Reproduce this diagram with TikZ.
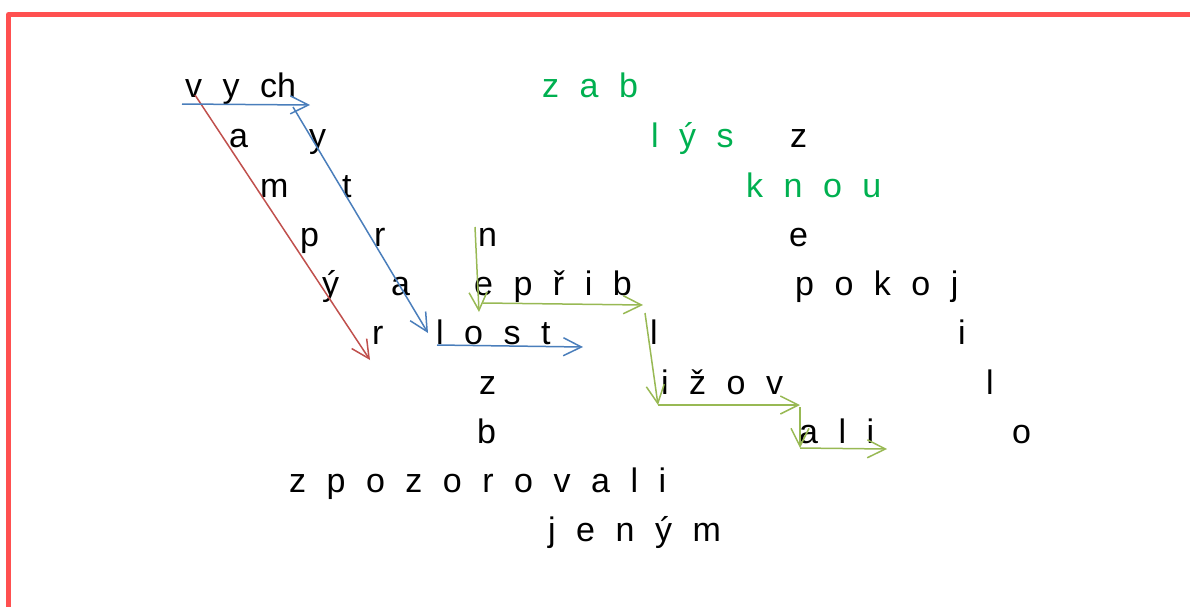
\documentclass[tikz,border=0pt]{standalone}
\usepackage{fontspec}
\usetikzlibrary{arrows.meta,positioning}
\newfontfamily\wordfamily{Liberation Sans}
\newcommand\wordfont{\wordfamily\fontsize{34}{40}\selectfont\spaceskip=20.5pt\relax}
\definecolor{framered}{HTML}{FF5050}
\definecolor{hintgreen}{HTML}{00B050}
\definecolor{pathred}{HTML}{C0504D}
\definecolor{pathblue}{HTML}{4A7EBB}
\definecolor{pathgreen}{HTML}{98B954}
\tikzset{
  word/.style={anchor=base west,inner sep=0pt,font=\wordfont},
  hint/.style={word,text=hintgreen},
  trail/.style={-{Straight Barb[length=18pt,width=18pt]},line width=1.5pt}
}

\begin{document}
\begin{tikzpicture}[x=1pt,y=-1pt]
  \useasboundingbox (0,0) rectangle (1190,606);
  \clip (0,0) rectangle (1190,606);
  \draw[framered,line width=5pt,line join=round] (8.5,620) -- (8.5,14.5) -- (1200,14.5);
  % letters, row by row
  \node[word] (vych) at (185,97) {v y ch};
  \node[hint] (zab) at (542,97) {z a b};
  \node[word] (a1) at (229,147) {a};
  \node[word] (y1) at (309,147) {y};
  \node[hint] (lys) at (651,147) {l ý s};
  \node[word] (z1) at (790,147) {z};
  \node[word] (m1) at (260,197) {m};
  \node[word] (t1) at (342,197) {t};
  \node[hint] (knou) at (746,197) {k n o u};
  \node[word] (p1) at (300,246) {p};
  \node[word] (r1) at (374,246) {r};
  \node[word] (n1) at (478,246) {n};
  \node[word] (e1) at (789,246) {e};
  \node[word] (y2) at (322,295) {ý};
  \node[word] (a2) at (391,295) {a};
  \node[word] (eprib) at (474,295) {e p ř i b};
  \node[word] (pokoj) at (795,295) {p o k o j};
  \node[word] (r2) at (372,344) {r};
  \node[word] (lost) at (436,344) {l o s t};
  \node[word] (l1) at (650,344) {l};
  \node[word] (i1) at (958,344) {i};
  \node[word] (z2) at (479,394) {z};
  \node[word] (izov) at (661,394) {i ž o v};
  \node[word] (l2) at (986,394) {l};
  \node[word] (b1) at (477,443) {b};
  \node[word] (ali) at (799,443) {a l i};
  \node[word] (o1) at (1012,443) {o};
  \node[word] (zpozorovali) at (289,492) {z p o z o r o v a l i};
  \node[word] (jenym) at (548,541) {j e n ý m};
  % trail ends
  \coordinate (red0) at (195,95);   \coordinate (red1) at (370,360);
  \coordinate (blue0) at (182,104); \coordinate (blue1) at (310,105);
  \coordinate (blue2) at (293,107); \coordinate (blue3) at (428,333);
  \coordinate (blue4) at (437,345); \coordinate (blue5) at (583,347);
  \coordinate (green0) at (475,227); \coordinate (green1) at (479,312);
  \coordinate (green2) at (483,303); \coordinate (green3) at (643,305);
  \coordinate (green4) at (645,313); \coordinate (green5) at (658,405);
  \coordinate (green6) at (800,405);
  \coordinate (green7) at (800,407); \coordinate (green8) at (800,448);
  \coordinate (green9) at (887,449);
  \draw[trail,pathred] (red0) -- (red1);
  \draw[trail,pathblue] (blue0) -- (blue1);
  \draw[trail,pathblue] (blue2) -- (blue3);
  \draw[trail,pathblue] (blue4) -- (blue5);
  \draw[trail,pathgreen] (green0) -- (green1);
  \draw[trail,pathgreen] (green2) -- (green3);
  \draw[trail,pathgreen] (green4) -- (green5);
  \draw[trail,pathgreen] (green5) -- (green6);
  \draw[trail,pathgreen] (green7) -- (green8);
  \draw[trail,pathgreen] (green8) -- (green9);
\end{tikzpicture}
\end{document}
